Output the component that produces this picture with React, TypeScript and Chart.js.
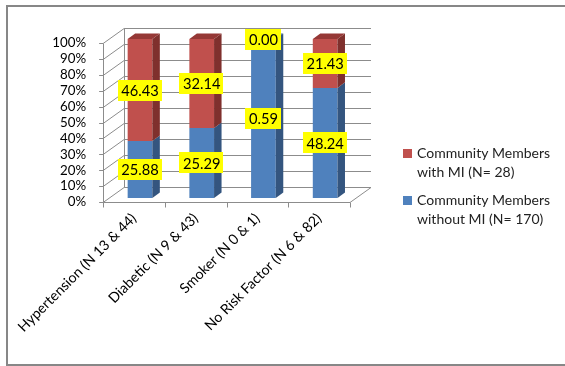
import { useEffect, useRef } from "react";
import { Chart, registerables } from "chart.js";

Chart.register(...registerables);

// Risk-factor groups and the share of each group in the two cohorts
const categories = [
  "Hypertension (N 13 & 44)",
  "Diabetic (N 9 & 43)",
  "Smoker (N 0 & 1)",
  "No Risk Factor (N 6 & 82)",
];
const withoutMI = [25.88, 25.29, 0.59, 48.24];
const withMI = [46.43, 32.14, 0.0, 21.43];
const seriesWithoutMI = ["Community Members", "without MI (N= 170)"];
const seriesWithMI = ["Community Members", "with MI (N= 28)"];
const yTickStep = 10;

const FONT = "Lato, 'Open Sans', sans-serif";
const BLUE = "#4f81bd";
const BLUE_SIDE = "#34557f";
const BLUE_TOP = "#3f6797";
const RED = "#c0504d";
const RED_SIDE = "#7f302d";
const RED_TOP = "#953836";
const GRID = "#8c8c8c";

// perspective offsets: back wall depth and bar placement inside the depth
const WALL_DX = 21;
const WALL_DY = -15;
const BAR_DX = 6;
const BAR_DY = -4;
const SIDE_DX = 7.5;
const SIDE_DY = -5.6;

const totals = withoutMI.map((v, i) => v + withMI[i]);
const pct = (arr: number[]) => arr.map((v, i) => (totals[i] ? (v / totals[i]) * 100 : 0));

const colorSets = [
  { front: BLUE, side: BLUE_SIDE, top: BLUE_TOP },
  { front: RED, side: RED_SIDE, top: RED_TOP },
];
const rawValues = [withoutMI, withMI];

const depthPlugin = {
  id: "depth3d",
  beforeDatasetsDraw(chart: any) {
    const { ctx, chartArea: a, scales } = chart;
    const y = scales.y;
    const x = scales.x;
    ctx.save();
    ctx.strokeStyle = GRID;
    ctx.lineWidth = 1;
    // side wall diagonals + back wall grid lines
    for (const t of y.ticks) {
      const py = Math.round(y.getPixelForValue(t.value)) + 0.5;
      ctx.beginPath();
      ctx.moveTo(a.left - 4, py);
      ctx.lineTo(a.left, py);
      ctx.lineTo(a.left + WALL_DX, py + WALL_DY);
      ctx.lineTo(a.right + WALL_DX, py + WALL_DY);
      ctx.stroke();
    }
    const top = Math.round(y.getPixelForValue(100)) + 0.5;
    const bottom = Math.round(y.getPixelForValue(0)) + 0.5;
    const left = Math.round(a.left) + 0.5;
    // wall edges
    ctx.beginPath();
    ctx.moveTo(left, top);
    ctx.lineTo(left, bottom);
    ctx.moveTo(left + WALL_DX, top + WALL_DY);
    ctx.lineTo(left + WALL_DX, bottom + WALL_DY);
    // floor front edge and right diagonal
    ctx.moveTo(left, bottom);
    ctx.lineTo(a.right, bottom);
    ctx.lineTo(a.right + WALL_DX, bottom + WALL_DY);
    ctx.stroke();
    // category separators
    const n = categories.length;
    ctx.beginPath();
    for (let i = 0; i <= n; i++) {
      const px =
        i < n
          ? x.getPixelForValue(i) - (x.getPixelForValue(1) - x.getPixelForValue(0)) / 2
          : a.right;
      const rx = Math.round(px) + 0.5;
      ctx.moveTo(rx, bottom);
      ctx.lineTo(rx, bottom + 5);
    }
    ctx.stroke();
    ctx.restore();

    ctx.save();
    ctx.translate(BAR_DX, BAR_DY);
  },
  afterDatasetsDraw(chart: any) {
    const { ctx } = chart;
    const metas = chart.data.datasets.map((_: any, i: number) => chart.getDatasetMeta(i));
    // side faces
    metas.forEach((meta: any, di: number) => {
      meta.data.forEach((el: any) => {
        const p = el.getProps(["x", "y", "base", "width"], true);
        if (Math.abs(p.base - p.y) < 0.01) return;
        const r = p.x + p.width / 2;
        ctx.fillStyle = colorSets[di].side;
        ctx.beginPath();
        ctx.moveTo(r, p.y);
        ctx.lineTo(r + SIDE_DX, p.y + SIDE_DY);
        ctx.lineTo(r + SIDE_DX, p.base + SIDE_DY);
        ctx.lineTo(r, p.base);
        ctx.closePath();
        ctx.fill();
      });
    });
    // top faces on the topmost visible segment of each stack
    categories.forEach((_, j) => {
      let topDs = -1;
      metas.forEach((meta: any, di: number) => {
        const p = meta.data[j].getProps(["y", "base"], true);
        if (Math.abs(p.base - p.y) > 0.01) topDs = di;
      });
      if (topDs < 0) return;
      const p = metas[topDs].data[j].getProps(["x", "y", "width"], true);
      const l = p.x - p.width / 2;
      const r = p.x + p.width / 2;
      ctx.fillStyle = colorSets[topDs].top;
      ctx.beginPath();
      ctx.moveTo(l, p.y);
      ctx.lineTo(l + SIDE_DX, p.y + SIDE_DY);
      ctx.lineTo(r + SIDE_DX, p.y + SIDE_DY);
      ctx.lineTo(r, p.y);
      ctx.closePath();
      ctx.fill();
    });
    // value labels in yellow boxes
    ctx.font = `14.67px ${FONT}`;
    ctx.textAlign = "center";
    ctx.textBaseline = "middle";
    metas.forEach((meta: any, di: number) => {
      meta.data.forEach((el: any, j: number) => {
        const p = el.getProps(["x", "y", "base"], true);
        const text = rawValues[di][j].toFixed(2);
        const w = ctx.measureText(text).width + 7;
        const h = 21;
        const cy = (p.y + p.base) / 2;
        ctx.fillStyle = "#ffff00";
        ctx.fillRect(Math.round(p.x - w / 2), Math.round(cy - h / 2), Math.round(w), h);
        ctx.fillStyle = "#000";
        ctx.fillText(text, p.x, cy + 1);
      });
    });
    ctx.restore();
  },
  afterDraw(chart: any) {
    // legend, series listed top-down in reverse stacking order
    const { ctx } = chart;
    ctx.save();
    ctx.font = `14px ${FONT}`;
    ctx.textBaseline = "middle";
    ctx.textAlign = "left";
    const entries = [
      { lines: seriesWithMI, color: RED, y: 153 },
      { lines: seriesWithoutMI, color: BLUE, y: 200 },
    ];
    entries.forEach((e) => {
      ctx.fillStyle = e.color;
      ctx.fillRect(403, e.y - 4, 9, 9);
      ctx.fillStyle = "#222";
      e.lines.forEach((line, k) => ctx.fillText(line, 417, e.y + k * 19));
    });
    ctx.restore();
  },
};

export default function App() {
  const ref = useRef<HTMLCanvasElement>(null);

  useEffect(() => {
    if (!ref.current) return;
    const chart = new Chart(ref.current, {
      type: "bar",
      data: {
        labels: categories,
        datasets: [
          {
            label: seriesWithoutMI.join(" "),
            data: pct(withoutMI),
            backgroundColor: BLUE,
            barPercentage: 0.4,
            categoryPercentage: 1,
          },
          {
            label: seriesWithMI.join(" "),
            data: pct(withMI),
            backgroundColor: RED,
            barPercentage: 0.4,
            categoryPercentage: 1,
          },
        ],
      },
      options: {
        responsive: false,
        animation: false,
        layout: { padding: { top: 43, right: 215, left: 0, bottom: 0 } },
        plugins: { legend: { display: false }, tooltip: { enabled: false } },
        scales: {
          x: {
            stacked: true,
            grid: { display: false, drawTicks: false },
            border: { display: false },
            ticks: {
              minRotation: 45,
              maxRotation: 45,
              padding: 8,
              autoSkip: false,
              color: "#000",
              font: { family: FONT, size: 14.2 },
            },
            afterFit: (s: any) => {
              s.height = 164;
            },
          },
          y: {
            stacked: true,
            min: 0,
            max: 100,
            grid: { display: false, drawTicks: false },
            border: { display: false },
            ticks: {
              stepSize: yTickStep,
              autoSkip: false,
              padding: 17,
              color: "#000",
              font: { family: FONT, size: 13.33 },
              callback: (v: any) => `${v}%`,
            },
            afterFit: (s: any) => {
              s.width = 100;
            },
          },
        },
      },
      plugins: [depthPlugin],
    });
    return () => chart.destroy();
  }, []);

  return (
    <div style={{ position: "fixed", left: 0, top: 0, width: 565, height: 366, overflow: "hidden", background: "#fff" }}>
      <canvas ref={ref} width={565} height={366} style={{ position: "absolute", left: 0, top: 0 }} />
      <div
        style={{
          position: "absolute",
          left: 6,
          top: 5,
          width: 600,
          height: 357,
          border: "2px solid #878787",
          pointerEvents: "none",
        }}
      />
    </div>
  );
}
